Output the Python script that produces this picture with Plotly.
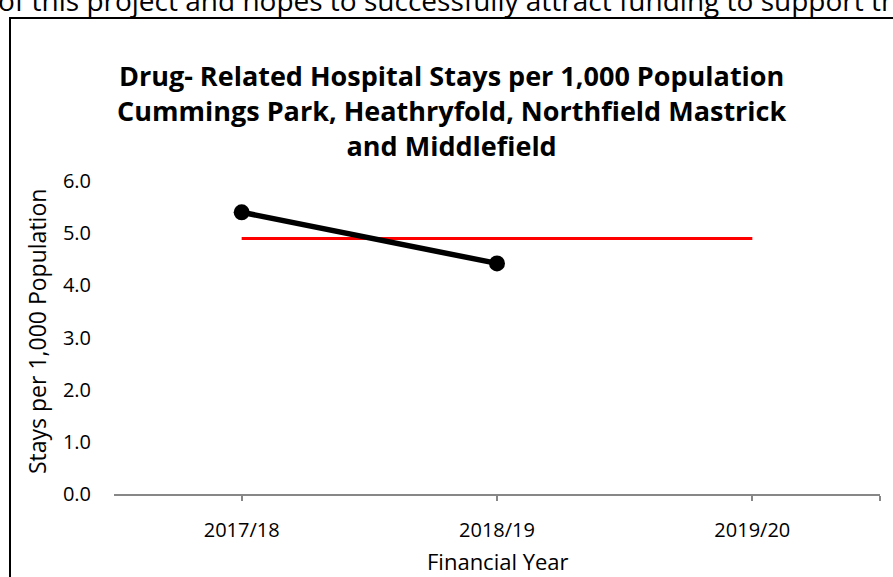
import plotly.graph_objects as go

categories = ["2017/18", "2018/19", "2019/20"]
stays = [5.4, 4.42]
target_value = [4.9, 4.9, 4.9]
y_ticks = [0, 1, 2, 3, 4, 5, 6]
y_tick_labels = ["0.0", "1.0", "2.0", "3.0", "4.0", "5.0", "6.0"]
title_lines = [
    "Drug- Related Hospital Stays per 1,000 Population",
    "Cummings Park, Heathryfold, Northfield Mastrick",
    "and Middlefield",
]

FONT = "Open Sans"
xpos = list(range(len(categories)))

fig = go.Figure()
fig.add_trace(go.Scatter(
    x=xpos, y=target_value, mode="lines",
    line=dict(color="#ff0000", width=3), hoverinfo="skip", showlegend=False))
fig.add_trace(go.Scatter(
    x=xpos[:len(stays)], y=stays, mode="lines+markers",
    line=dict(color="#000000", width=5.5),
    marker=dict(color="#000000", size=16), showlegend=False))

W, H = 893, 577
L, R, T, B = 114, 13, 181, 83
pw = W - L - R
ph = H - T - B

def px_x(px):
    return (px - L) / pw

def px_y(py):
    return (H - B - py) / ph

fig.update_layout(
    width=W, height=H,
    margin=dict(l=L, r=R, t=T, b=B),
    paper_bgcolor="white", plot_bgcolor="white",
    font=dict(family=FONT, color="#000000", size=20),
    xaxis=dict(
        range=[-0.5, 2.5], tickmode="array",
        tickvals=xpos + [2.5], ticktext=categories + [""],
        showgrid=False, zeroline=False, showline=True, linecolor="#878787", linewidth=2,
        ticks="outside", ticklen=5, tickcolor="#878787", tickwidth=2,
        tickfont=dict(size=20), ticklabelstandoff=12,
    ),
    yaxis=dict(
        range=[0, 6], tickmode="array", tickvals=y_ticks, ticktext=y_tick_labels,
        showgrid=False, zeroline=False, showline=False,
        tickfont=dict(size=20), ticklabelstandoff=22,
    ),
)

fig.add_annotation(
    xref="paper", yref="paper", x=px_x(498), y=px_y(561),
    text="Financial Year", showarrow=False, font=dict(size=22, family=FONT),
    xanchor="center", yanchor="middle")

fig.add_annotation(
    xref="paper", yref="paper", x=px_x(37), y=px_y(332),
    text="Stays per 1,000 Population", showarrow=False, textangle=-90,
    font=dict(size=23, family=FONT), xanchor="center", yanchor="middle")

fig.add_annotation(
    xref="paper", yref="paper", x=px_x(451), y=px_y(110.5),
    text="<br>".join("<b>" + t + "</b>" for t in title_lines),
    showarrow=False, font=dict(size=27, family=FONT), align="center",
    xanchor="center", yanchor="middle")

fig.add_annotation(
    xref="paper", yref="paper", x=px_x(-4), y=px_y(0),
    text="of this project and hopes to successfully attract funding to support this",
    showarrow=False, font=dict(size=28, family=FONT), xanchor="left", yanchor="middle")

fig.add_shape(type="rect", xref="paper", yref="paper",
              x0=px_x(10), x1=px_x(905), y0=px_y(600), y1=px_y(18),
              line=dict(color="#000000", width=2), fillcolor="rgba(0,0,0,0)")

fig.write_html("out.html", config={"displayModeBar": False},
               post_script="document.body.style.margin='0';document.body.style.overflow='hidden';")
